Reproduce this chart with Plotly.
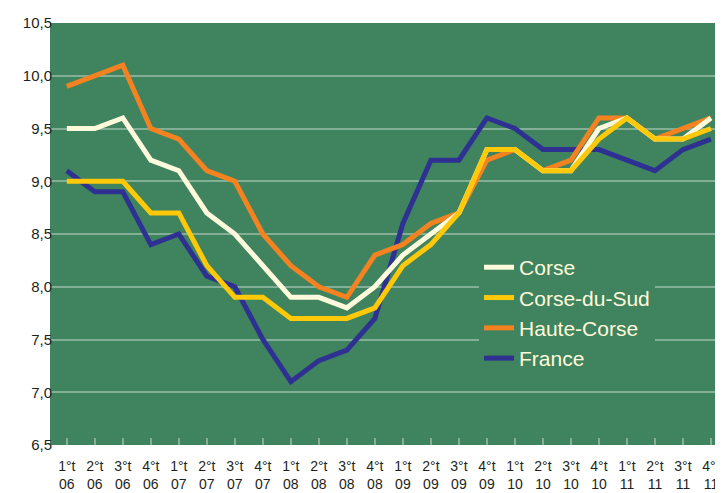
import plotly.graph_objects as go

quarters = ["1°t<br>06","2°t<br>06","3°t<br>06","4°t<br>06",
            "1°t<br>07","2°t<br>07","3°t<br>07","4°t<br>07",
            "1°t<br>08","2°t<br>08","3°t<br>08","4°t<br>08",
            "1°t<br>09","2°t<br>09","3°t<br>09","4°t<br>09",
            "1°t<br>10","2°t<br>10","3°t<br>10","4°t<br>10",
            "1°t<br>11","2°t<br>11","3°t<br>11","4°t<br>11"]

corse = [9.5, 9.5, 9.6, 9.2, 9.1, 8.7, 8.5, 8.2, 7.9, 7.9, 7.8, 8.0,
         8.3, 8.5, 8.7, 9.3, 9.3, 9.1, 9.1, 9.5, 9.6, 9.4, 9.4, 9.6]
corse_du_sud = [9.0, 9.0, 9.0, 8.7, 8.7, 8.2, 7.9, 7.9, 7.7, 7.7, 7.7, 7.8,
                8.2, 8.4, 8.7, 9.3, 9.3, 9.1, 9.1, 9.4, 9.6, 9.4, 9.4, 9.5]
haute_corse = [9.9, 10.0, 10.1, 9.5, 9.4, 9.1, 9.0, 8.5, 8.2, 8.0, 7.9, 8.3,
               8.4, 8.6, 8.7, 9.2, 9.3, 9.1, 9.2, 9.6, 9.6, 9.4, 9.5, 9.6]
france = [9.1, 8.9, 8.9, 8.4, 8.5, 8.1, 8.0, 7.5, 7.1, 7.3, 7.4, 7.7,
          8.6, 9.2, 9.2, 9.6, 9.5, 9.3, 9.3, 9.3, 9.2, 9.1, 9.3, 9.4]

y_tickvals = [6.5, 7.0, 7.5, 8.0, 8.5, 9.0, 9.5, 10.0, 10.5]
y_ticktext = ["6,5", "7,0", "7,5", "8,0", "8,5", "9,0", "9,5", "10,0", "10,5"]
grid_vals = [7.0, 7.5, 8.0, 8.5, 9.0, 9.5, 10.0]

GREEN = "#3F845E"
x = list(range(len(quarters)))

series = [
    ("France", france, "#2E3192", 4),
    ("Haute-Corse", haute_corse, "#F58220", 3),
    ("Corse", corse, "#FFFADC", 1),
    ("Corse-du-Sud", corse_du_sud, "#FFC90A", 2),
]

fig = go.Figure()
for name, vals, color, rank in series:
    fig.add_trace(go.Scatter(x=x, y=vals, mode="lines", name=name,
                             line=dict(color=color, width=5),
                             legendrank=rank))

# page body has an 8px margin, so the figure is 8px smaller than the window
fig.update_layout(
    width=715, height=485,
    margin=dict(l=42, r=0, t=15, b=48, autoexpand=False),
    paper_bgcolor="white",
    plot_bgcolor=GREEN,
    font=dict(family="Liberation Sans, Arial, sans-serif", color="#231F20"),
    showlegend=True,
    legend=dict(x=0.6375, y=0.469, xanchor="left", yanchor="top",
                bgcolor=GREEN, borderwidth=0,
                font=dict(size=21, color="#FFFADC"),
                itemwidth=30, tracegroupgap=0),
)
fig.update_xaxes(
    range=[-0.6, 23.43], automargin=False,
    tickmode="array", tickvals=x, ticktext=quarters,
    showgrid=False, zeroline=False, showline=False,
    ticks="inside", ticklen=7, tickwidth=2,
    tickcolor="rgba(255,255,255,0.35)",
    ticklabelstandoff=11,
    tickfont=dict(size=14, family="Liberation Sans Narrow, Liberation Sans, Arial", color="#231F20"),
)
fig.update_yaxes(
    range=[6.5, 10.5], automargin=False,
    tickmode="array", tickvals=y_tickvals, ticktext=y_ticktext,
    showgrid=False, zeroline=False, showline=False,
    ticks="", ticklabelstandoff=-3,
    tickfont=dict(size=15, color="#231F20"),
    minor=dict(tickmode="array", tickvals=grid_vals, showgrid=True,
               gridcolor="rgba(255,255,255,0.35)", gridwidth=1.5, ticks=""),
)

fig.write_html("out.html")
